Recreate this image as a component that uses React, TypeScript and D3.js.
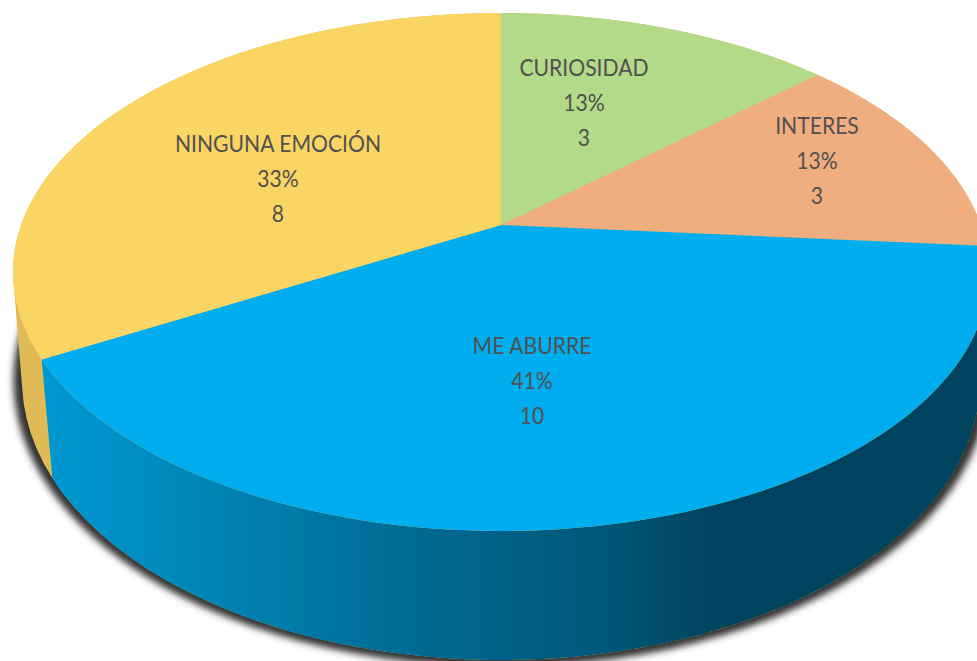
import React from "react";
import * as d3 from "d3";

const categories = ["CURIOSIDAD", "INTERES", "ME ABURRE", "NINGUNA EMOCIÓN"];
const seriesValues = [3, 3, 10, 8];
const percentLabels = ["13%", "13%", "41%", "33%"];
const topColors = ["#B3DA88", "#F0AE80", "#00AEEF", "#FBD564"];

// Layout (not data)
const W = 977, H = 661;
const labelAnchors: [number, number][] = [[584, 103], [817, 161], [532, 381], [278, 179]];
const LINE = 35;
const persp = 0.1815;
const topDisk = { cx: 501, cy: 272, rx: 488, ry: 259, skew: 0.014 };
const baseDisk = { cx: 501, cy: 380, rx: 479, ry: 280, skew: 0 };

type Disk = typeof topDisk;
// Projects a pie angle (radians, clockwise from 12 o'clock) and radius onto the tilted disc.
function project(d: Disk, angle: number, r = 1): [number, number] {
  const t = angle + 0.0785 * Math.max(0, Math.sin((3 * angle) / 4)) * (angle < (Math.PI * 4) / 3 ? 1 : 0) + d.skew * Math.sin(angle / 2);
  const x = r * Math.sin(t), y = r * Math.cos(t);
  const w = 1 + persp * y;
  const X = (d.rx * Math.sqrt(1 - persp * persp) * x) / w;
  const Y = (d.ry * (y + persp)) / w;
  return [d.cx + X, d.cy - Y];
}
const sample = (a0: number, a1: number) => d3.range(0, 121).map((i) => a0 + ((a1 - a0) * i) / 120);
const line = d3.line();

const arcs = d3.pie<number>().sort(null)(seriesValues);
const apex = project(topDisk, 0, 0);

const wedge = (a0: number, a1: number) =>
  line([apex, ...sample(a0, a1).map((a) => project(topDisk, a))]) + "Z";

const full = sample(0, Math.PI * 2);
const topRim = full.map((a) => project(topDisk, a));
const baseRim = full.map((a) => project(baseDisk, a));
const hull = d3.polygonHull([...topRim, ...baseRim]) as [number, number][];

const blue = arcs[2];
const blueSide =
  line([
    ...sample(blue.startAngle, blue.endAngle).map((a) => project(topDisk, a)),
    ...sample(blue.startAngle, blue.endAngle).reverse().map((a) => project(baseDisk, a)),
  ]) + "Z";

const shadowRim = full.map((a) => {
  const [x, y] = project(baseDisk, a);
  return [baseDisk.cx + (x - baseDisk.cx) * 1.018, baseDisk.cy + (y - baseDisk.cy) * 1.024] as [number, number];
});

const gradX = d3.scaleLinear().domain([40, 720]).range([0, 1]);
const gradStops: [number, string][] = [
  [40, "#0098D2"], [200, "#0086B6"], [350, "#00729E"], [480, "#00638A"], [600, "#00587A"], [700, "#004661"], [720, "#00435F"],
];

export default function App() {
  return (
    <svg width={W} height={H} viewBox={`0 0 ${W} ${H}`} style={{ position: "absolute", left: 0, top: 0, background: "#fff" }}>
      <defs>
        <filter id="soft" x="-5%" y="-5%" width="110%" height="110%">
          <feGaussianBlur stdDeviation="3.5" />
        </filter>
        <linearGradient id="side" gradientUnits="userSpaceOnUse" x1={40} x2={720} y1={0} y2={0}>
          {gradStops.map(([x, c]) => (
            <stop key={x} offset={gradX(x)} stopColor={c} />
          ))}
        </linearGradient>
      </defs>
      <path d={line(shadowRim) + "Z"} fill="#333" filter="url(#soft)" />
      <path d={line(hull) + "Z"} fill="#DFBA57" />
      <path d={blueSide} fill="url(#side)" />
      {arcs.map((a, i) => (
        <path key={i} d={wedge(a.startAngle, a.endAngle)} fill={topColors[i]} />
      ))}
      <g fontFamily="Lato, 'Open Sans', sans-serif" fontSize={23} fill="#505050" textAnchor="middle">
        {categories.map((c, i) => {
          const [x, y] = labelAnchors[i];
          return (
            <text key={c} transform={`translate(${x},0) scale(0.92,1)`}>
              <tspan x={0} y={y - LINE + 8.5}>{c}</tspan>
              <tspan x={0} y={y + 8.5}>{percentLabels[i]}</tspan>
              <tspan x={0} y={y + LINE + 8.5}>{seriesValues[i]}</tspan>
            </text>
          );
        })}
      </g>
    </svg>
  );
}
